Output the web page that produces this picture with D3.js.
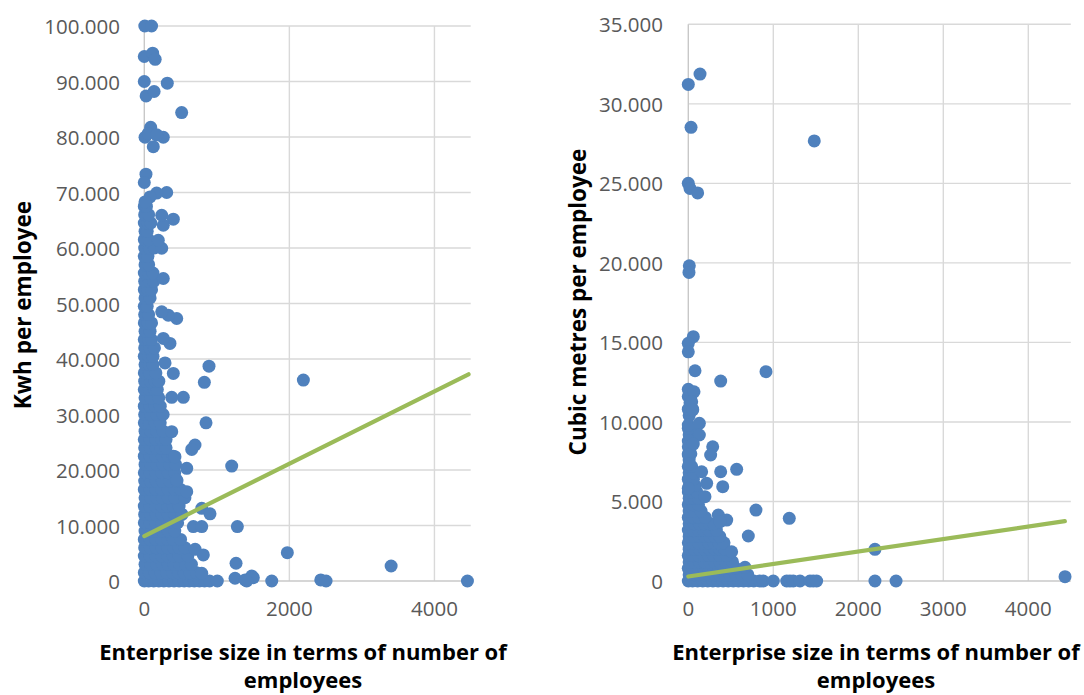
<!DOCTYPE html>
<html>
<head>
<meta charset="utf-8">
<script src="https://cdn.jsdelivr.net/npm/d3@7"></script>
<style>
  html, body { margin: 0; padding: 0; background: #fff; }
  svg { display: block; }
  .tick-label { font-family: "Open Sans", sans-serif; font-size: 20.5px; fill: #595959; }
  .axis-title { font-family: "Open Sans", sans-serif; font-size: 22px; font-weight: 700; fill: #000; }
</style>
</head>
<body>
<svg id="chart" width="1084" height="695"></svg>
<script>
// ---- Electricity use per employee (kWh) vs enterprise size ----
// Dense cluster rows: [kWh level, sizes of enterprises at that level]
const energyCluster = [
  [0,     [0, 60, 130, 200, 270, 340, 410, 480, 550, 620, 690, 760, 830, 900]],
  [1500,  [0, 70, 150, 230, 310, 390, 470, 550, 630, 720]],
  [3000,  [10, 90, 170, 250, 330, 410, 490, 570, 650]],
  [4500,  [0, 80, 160, 240, 320, 400, 480, 600]],
  [6000,  [5, 85, 165, 245, 325, 405, 480, 560]],
  [7500,  [0, 80, 160, 240, 320, 400, 500]],
  [9000,  [10, 90, 170, 250, 330, 420]],
  [10500, [0, 80, 160, 240, 320, 400, 460]],
  [12000, [5, 85, 165, 245, 330, 420, 520]],
  [13500, [0, 80, 160, 240, 320, 400, 480]],
  [15000, [10, 90, 170, 250, 330, 420, 560]],
  [16500, [0, 80, 160, 240, 330, 420, 500]],
  [18000, [5, 85, 165, 250, 350, 450]],
  [19500, [0, 80, 160, 240, 330, 420]],
  [21000, [10, 90, 170, 260, 350, 430]],
  [22500, [0, 80, 160, 250, 330, 400]],
  [24000, [5, 85, 165, 230, 300]],
  [25500, [0, 80, 160, 240, 300]],
  [27000, [10, 90, 170, 260]],
  [28500, [0, 70, 150, 220]],
  [30000, [5, 85, 170, 260]],
  [31500, [0, 80, 150, 220]],
  [33000, [10, 90, 200]],
  [34500, [0, 70, 140, 180]],
  [36000, [5, 85, 150, 200]],
  [37500, [0, 70, 160]],
  [39000, [10, 70, 120]],
  [40500, [0, 60, 120]],
  [42000, [5, 75, 140]],
  [43500, [0, 60, 100]],
  [45000, [10, 80]],
  [46500, [0, 50, 100]],
  [48000, [5, 60]],
  [49500, [0, 40]],
  [51000, [10, 80]],
  [52500, [0, 50, 100]],
  [54000, [5, 70, 130]],
  [55500, [0, 60, 120]],
  [57000, [10, 60]],
  [58500, [0, 50]],
  [60000, [5, 70, 140]],
  [61500, [0, 60]],
  [63000, [10, 40]],
  [64500, [0, 50, 90]],
  [66000, [5, 60]],
  [67500, [0, 30]]
];

// Individual enterprises away from the main cluster: [size, kWh]
const energyOutliers = [
  [7, 100000], [100, 100000],
  [0, 94500], [115, 95100], [150, 94000],
  [0, 90000], [317, 89700], [25, 87400], [135, 88200],
  [515, 84400],
  [10, 79950], [88, 81750], [262, 79950], [124, 78250], [55, 80650], [170, 80400],
  [23, 73300], [0, 71800],
  [309, 70000], [170, 69900], [79, 69200], [10, 68300],
  [400, 65200], [262, 64100], [240, 65900],
  [240, 59950], [193, 61400], [262, 54500],
  [447, 47300], [331, 47900], [240, 48500],
  [354, 42800], [262, 43700],
  [892, 38700], [828, 35800], [400, 37400], [286, 39300],
  [538, 33100], [378, 33100],
  [851, 28500], [378, 26900],
  [699, 24500], [654, 23700],
  [1205, 20700], [423, 22400], [585, 20300],
  [585, 16100], [447, 18200],
  [792, 13100], [906, 12100],
  [676, 9800], [792, 9800], [1283, 9800],
  [701, 5700], [814, 4700], [792, 1400],
  [1265, 3200],
  [1007, 0], [1251, 500], [1390, 200], [1481, 900], [1503, 600], [1412, 0],
  [2193, 36200], [1972, 5100], [1757, 0],
  [2433, 200], [2506, 0], [3403, 2700], [4455, 0]
];

// Linear trend line end points: [size, kWh]
const energyTrend = [[0, 8100], [4470, 37250]];
const energyYTicks = [0, 10000, 20000, 30000, 40000, 50000, 60000, 70000, 80000, 90000, 100000];
const energyXTicks = [0, 2000, 4000];

// ---- Water use per employee (cubic metres) vs enterprise size ----
const waterCluster = [
  [0,     [0, 50, 110, 170, 230, 290, 350, 410, 470, 530, 590, 650, 710, 770, 840]],
  [400,   [10, 70, 130, 190, 250, 310, 370, 430, 490, 560, 630, 700]],
  [800,   [0, 60, 120, 180, 240, 300, 360, 420, 490, 560]],
  [1200,  [10, 70, 130, 190, 250, 310, 370, 440, 520]],
  [1600,  [0, 60, 120, 180, 240, 300, 370, 450]],
  [2000,  [10, 70, 130, 190, 250, 310, 370, 430]],
  [2400,  [0, 60, 120, 180, 240, 300, 360, 420]],
  [2800,  [10, 70, 130, 190, 250, 310, 370]],
  [3200,  [0, 60, 120, 180, 240, 330]],
  [3600,  [10, 70, 130, 190, 250, 300]],
  [4000,  [0, 60, 120, 200]],
  [4400,  [10, 70, 150]],
  [4800,  [0, 60, 120]],
  [5200,  [10, 70, 120]],
  [5600,  [0, 50, 100]],
  [6000,  [10, 80]],
  [6400,  [0, 60]],
  [6800,  [10, 60]],
  [7200,  [0, 40]],
  [7600,  [10]],
  [8000,  [0, 30]],
  [8400,  [10]],
  [8800,  [0, 30]],
  [9200,  [10]],
  [9600,  [0, 30]],
  [10400, [10]],
  [10800, [0, 50]],
  [11200, [20]],
  [11600, [0, 30]]
];

const waterOutliers = [
  [0, 31220], [138, 31870], [32, 28520], [1482, 27670],
  [0, 25000], [20, 24680], [110, 24400],
  [12, 19820], [8, 19400],
  [59, 15360], [0, 14940], [0, 14410],
  [79, 13220], [914, 13160], [381, 12570],
  [0, 12050], [67, 11900], [40, 11270], [52, 10750],
  [0, 9800], [130, 9910], [130, 9180],
  [0, 8440], [59, 8610], [287, 8440], [263, 7920],
  [0, 7920], [12, 7350],
  [569, 7020], [381, 6870], [157, 6870],
  [405, 5930], [216, 6140], [0, 5830], [196, 5300],
  [796, 4460], [1188, 3940], [353, 4150], [452, 3830], [373, 3730],
  [706, 2830], [510, 1840], [667, 860],
  [882, 0], [1000, 0], [1158, 0], [1196, 0], [1235, 0], [1314, 0], [1432, 0], [1470, 0], [1510, 0],
  [2196, 1990], [2196, 0], [2444, 0], [4432, 270]
];

const waterTrend = [[0, 280], [4430, 3760]];
const waterYTicks = [0, 5000, 10000, 15000, 20000, 25000, 30000, 35000];
const waterXTicks = [0, 1000, 2000, 3000, 4000];

// ---- drawing ----
const locale = d3.formatLocale({ decimal: ",", thousands: ".", grouping: [3], currency: ["€", ""] });
const fmt = locale.format(",d");

const svg = d3.select("#chart");
const DOT = "#4F81BD";
const TREND = "#9BBB59";

function flatten(cluster, outliers) {
  const pts = [];
  cluster.forEach(([v, sizes]) => sizes.forEach(s => pts.push([s, v])));
  return pts.concat(outliers);
}

function panel(cfg) {
  const x = d3.scaleLinear().domain([0, 4500]).range([cfg.left, cfg.right]);
  const y = d3.scaleLinear().domain([0, cfg.yMax]).range([cfg.bottom, cfg.top]);
  const g = svg.append("g");

  // horizontal gridlines
  g.append("g").selectAll("line").data(cfg.yTicks.filter(d => d > 0)).join("line")
    .attr("x1", x(0)).attr("x2", x(4500))
    .attr("y1", d => y(d)).attr("y2", d => y(d))
    .attr("stroke", "#d9d9d9").attr("stroke-width", 1.4);
  // vertical gridlines
  g.append("g").selectAll("line").data(cfg.xTicks.filter(d => d > 0)).join("line")
    .attr("x1", d => x(d)).attr("x2", d => x(d))
    .attr("y1", y(0)).attr("y2", y(cfg.yMax))
    .attr("stroke", "#d9d9d9").attr("stroke-width", 1.4);
  // axis lines
  g.append("line").attr("x1", x(0)).attr("x2", x(0)).attr("y1", y(0)).attr("y2", y(cfg.yMax))
    .attr("stroke", "#c8c8c8").attr("stroke-width", 1.4);
  g.append("line").attr("x1", x(0)).attr("x2", x(4500)).attr("y1", y(0)).attr("y2", y(0))
    .attr("stroke", "#c8c8c8").attr("stroke-width", 1.4);

  // y tick labels
  g.append("g").selectAll("text").data(cfg.yTicks).join("text")
    .attr("class", "tick-label")
    .attr("x", cfg.yLabelX).attr("y", d => y(d))
    .attr("text-anchor", "end").attr("dominant-baseline", "central")
    .text(d => fmt(d));
  // x tick labels
  g.append("g").selectAll("text").data(cfg.xTicks).join("text")
    .attr("class", "tick-label")
    .attr("x", d => x(d)).attr("y", 608)
    .attr("text-anchor", "middle").attr("dominant-baseline", "central")
    .text(d => d);

  // points
  g.append("g").selectAll("circle").data(cfg.points).join("circle")
    .attr("cx", d => x(d[0])).attr("cy", d => y(d[1]))
    .attr("r", 6.5).attr("fill", DOT);

  // trend line
  g.append("path").datum(cfg.trend)
    .attr("d", d3.line().x(d => x(d[0])).y(d => y(d[1])))
    .attr("fill", "none").attr("stroke", TREND).attr("stroke-width", 4.2)
    .attr("stroke-linecap", "round");

  // axis titles
  g.append("text").attr("class", "axis-title")
    .attr("transform", `translate(${cfg.yTitleX},${cfg.yTitleY}) rotate(-90)`)
    .attr("text-anchor", "middle").attr("dominant-baseline", "central")
    .style("font-size", cfg.yTitleSize)
    .text(cfg.yTitle);
  g.append("text").attr("class", "axis-title")
    .attr("x", cfg.xTitleX).attr("y", 660)
    .attr("text-anchor", "middle")
    .text("Enterprise size in terms of number of");
  g.append("text").attr("class", "axis-title")
    .attr("x", cfg.xTitleX).attr("y", 688)
    .attr("text-anchor", "middle")
    .text("employees");
}

panel({
  left: 144.3, right: 470.7, top: 26, bottom: 581, yMax: 100000,
  yTicks: energyYTicks, xTicks: energyXTicks,
  points: flatten(energyCluster, energyOutliers), trend: energyTrend,
  yLabelX: 120, yTitle: "Kwh per employee", yTitleX: 22, yTitleY: 305, yTitleSize: "22.5px", xTitleX: 303
});

panel({
  left: 688.3, right: 1070.8, top: 24.3, bottom: 581, yMax: 35000,
  yTicks: waterYTicks, xTicks: waterXTicks,
  points: flatten(waterCluster, waterOutliers), trend: waterTrend,
  yLabelX: 663, yTitle: "Cubic metres per employee", yTitleX: 577, yTitleY: 302, yTitleSize: "22.5px", xTitleX: 876
});
</script>
</body>
</html>
